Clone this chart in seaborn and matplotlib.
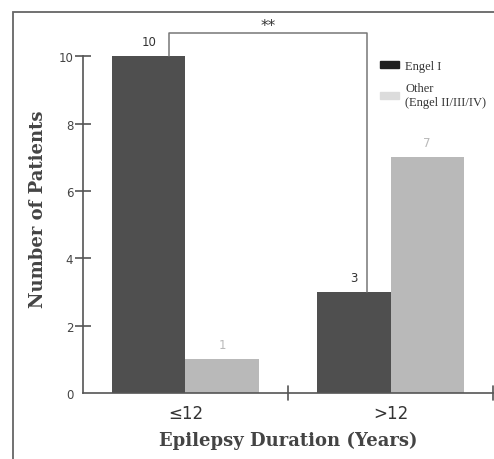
import pandas as pd
import matplotlib.pyplot as plt
import seaborn as sns
from matplotlib.patches import Patch, Rectangle

# Data
durations = ["≤12", ">12"]
engel_i = [10, 3]
other = [1, 7]
outcomes = ["Engel I", "Other\n(Engel II/III/IV)"]

df = pd.DataFrame({
    "Duration": durations * 2,
    "Patients": engel_i + other,
    "Outcome": [outcomes[0]] * 2 + [outcomes[1]] * 2,
})

dark = "#4f4f4f"
light = "#b9b9b9"
axis_col = "#555555"

sns.set_style("white")
plt.rcParams["font.family"] = ["DejaVu Sans"]

fig = plt.figure(figsize=(4.94, 4.6), dpi=100)
ax = fig.add_axes([0.168, 0.1435, 0.83, 0.805])

sns.barplot(
    data=df, x="Duration", y="Patients", hue="Outcome",
    palette=[dark, light], width=0.715, dodge=True, ax=ax,
    saturation=1, linewidth=0, legend=False,
)

ax.set_xlim(-0.5, 1.5)
ax.set_ylim(0, 11)
ax.spines["left"].set_bounds(0, 10)
ax.spines["top"].set_visible(False)
ax.spines["right"].set_visible(False)
for s in ["left", "bottom"]:
    ax.spines[s].set_color(axis_col)
    ax.spines[s].set_linewidth(1.2)

ax.set_yticks([0, 2, 4, 6, 8, 10])
ax.tick_params(axis="y", left=True, direction="inout", length=12, width=1.2, color=axis_col,
               labelsize=8.5, labelcolor="#444444", pad=1)
ax.yaxis.get_major_ticks()[0].tick1line.set_visible(False)
ax.set_xticks([0, 1])
ax.set_xticklabels(durations, fontsize=12, color="#333333")
ax.tick_params(axis="x", length=0, pad=8)
# category boundary ticks
for xb in [0.5, 1.5]:
    ax.plot([xb, xb], [-0.2, 0.2], color=axis_col, lw=1.2, clip_on=False)

ax.set_xlabel("Epilepsy Duration (Years)", fontsize=13, fontweight="bold",
              family="DejaVu Serif", color="#444444", labelpad=6)
ax.set_ylabel("Number of Patients", fontsize=13, fontweight="bold",
              family="DejaVu Serif", color="#444444", labelpad=8)

# value labels
bars = ax.patches
for p, col in zip(bars[:4], [dark, dark, light, light]):
    h = p.get_height()
    ax.text(p.get_x() + p.get_width() / 2, h + 0.25, f"{int(h)}",
            ha="center", va="bottom", fontsize=8.5, color=col if col == light else "#333333")

# significance bracket
b1, b2 = bars[0], bars[1]
x1 = b1.get_x() + 0.78 * b1.get_width()
x2 = b2.get_x() + 0.68 * b2.get_width()
ytop = 10.68
ax.plot([x1, x1, x2, x2], [b1.get_height(), ytop, ytop, b2.get_height()],
        color="#777777", lw=1.1, clip_on=False)
ax.text((x1 + x2) / 2, ytop, "**", ha="center", va="bottom", fontsize=11, color="#333333")

# legend
handles = [Patch(color="#1e1e1e"), Patch(color="#dcdcdc")]
leg = ax.legend(handles, outcomes, loc="upper left", bbox_to_anchor=(0.697, 0.93),
                frameon=False, handlelength=1.5, handleheight=0.45, handletextpad=0.5,
                prop={"family": "Liberation Serif", "size": 9}, labelspacing=0.85)
for t in leg.get_texts():
    t.set_color("#333333")

# outer frame
fig.add_artist(Rectangle((13 / 494, -0.05), 1.1, 1 - 13 / 460 + 0.05,
                         transform=fig.transFigure, fill=False,
                         edgecolor="#666666", lw=1.3))

fig.savefig("out.png", dpi=100)
